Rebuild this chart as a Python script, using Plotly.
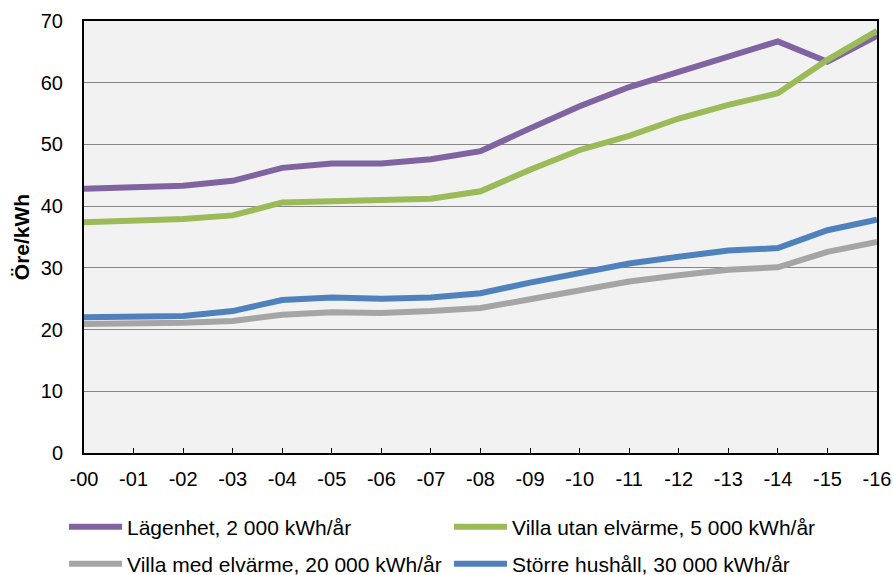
import plotly.graph_objects as go

years = ["-00", "-01", "-02", "-03", "-04", "-05", "-06", "-07", "-08",
         "-09", "-10", "-11", "-12", "-13", "-14", "-15", "-16"]

lagenhet = [42.8, 43.1, 43.3, 44.1, 46.2, 46.9, 46.9, 47.6, 48.9,
            52.6, 56.2, 59.3, 61.8, 64.3, 66.7, 63.4, 67.6]
villa_utan = [37.4, 37.6, 37.9, 38.5, 40.6, 40.8, 40.9, 41.2, 42.4,
              45.9, 49.1, 51.4, 54.2, 56.4, 58.3, 63.7, 68.4]
villa_med = [20.9, 20.9, 21.1, 21.4, 22.4, 22.8, 22.7, 23.0, 23.5,
             24.9, 26.4, 27.8, 28.8, 29.7, 30.1, 32.6, 34.2]
storre = [22.0, 22.2, 22.2, 23.0, 24.8, 25.2, 25.0, 25.2, 25.9,
          27.6, 29.2, 30.7, 31.8, 32.8, 33.2, 36.1, 37.8]

names = ["Lägenhet, 2 000 kWh/år", "Villa utan elvärme, 5 000 kWh/år",
         "Villa med elvärme, 20 000 kWh/år", "Större hushåll, 30 000 kWh/år"]
colors = ["#8064A2", "#9BBB59", "#A5A5A5", "#4F81BD"]
series = [lagenhet, villa_utan, villa_med, storre]
legends = ["legend", "legend", "legend2", "legend2"]

FONT = "Liberation Sans, Arial, sans-serif"

fig = go.Figure()
for name, col, vals, lg in zip(names, colors, series, legends):
    fig.add_trace(go.Scatter(
        x=years, y=vals, name=name, mode="lines",
        line=dict(color=col, width=6), legend=lg,
    ))

leg_common = dict(
    orientation="h", xanchor="left", yanchor="middle",
    entrywidth=317, entrywidthmode="pixels", itemwidth=53,
    font=dict(family=FONT, size=21, color="#000000"),
    bgcolor="rgba(0,0,0,0)", borderwidth=0,
)

fig.update_layout(
    width=893, height=575,
    margin=dict(l=84, r=16, t=21, b=122, autoexpand=False),
    paper_bgcolor="#FFFFFF",
    plot_bgcolor="#F2F2F2",
    font=dict(family=FONT, size=20, color="#000000"),
    showlegend=True,
    legend=dict(x=-0.0252, y=-0.1713, **leg_common),
    legend2=dict(x=-0.0252, y=-0.2570, **leg_common),
    xaxis=dict(
        type="category", range=[0, 16],
        showgrid=False, zeroline=False,
        showline=True, mirror=True, linecolor="#000000", linewidth=2,
        ticks="inside", ticklen=5, tickcolor="#000000", tickwidth=1,
        tickfont=dict(family=FONT, size=20, color="#000000"),
        ticklabelstandoff=7,
    ),
    yaxis=dict(
        range=[0, 70], dtick=10, tick0=0,
        showgrid=True, gridcolor="#868686", gridwidth=1,
        zeroline=False,
        showline=True, mirror=True, linecolor="#000000", linewidth=2,
        ticks="", tickfont=dict(family=FONT, size=20, color="#000000"),
        ticklabelstandoff=15,
        title=dict(text="<b>Öre/kWh</b>", font=dict(family=FONT, size=21, color="#000000"),
                   standoff=5),
    ),
)

fig.write_html(
    "out.html",
    config={"displayModeBar": False},
    post_script="document.body.style.margin='0';document.body.style.overflow='hidden';",
)
